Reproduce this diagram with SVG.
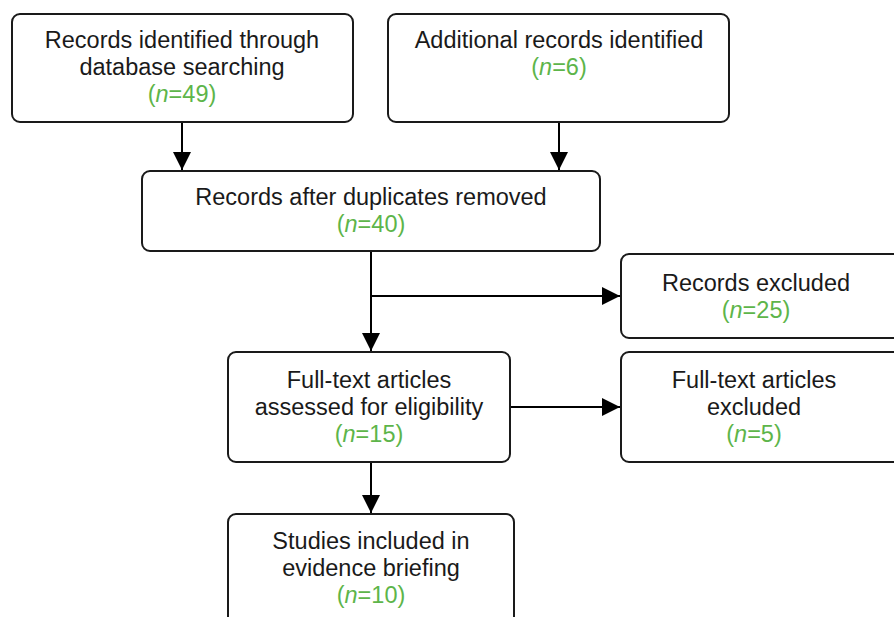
<svg xmlns="http://www.w3.org/2000/svg" width="894" height="617" viewBox="0 0 894 617">
<style>
.box{fill:#fff;stroke:#1a1a1a;stroke-width:2}
.t{font-family:"Liberation Sans",Arial,sans-serif;font-size:23.5px;fill:#1a1a1a;text-anchor:middle}
.g{fill:#5db54a}
.i{font-style:italic}
.c{stroke:#000;stroke-width:2;fill:none}
</style>
<defs>
<marker id="ah" markerUnits="userSpaceOnUse" markerWidth="18" markerHeight="18" viewBox="0 0 18 18" refX="18" refY="9" orient="auto">
<path d="M0,0 L18,9 L0,18 Z" fill="#000"/>
</marker>
</defs>
<rect width="894" height="617" fill="#fff"/>
<g id="connectors">
<line class="c" x1="182" y1="122" x2="182" y2="170" marker-end="url(#ah)"/>
<line class="c" x1="559" y1="122" x2="559" y2="170" marker-end="url(#ah)"/>
<line class="c" x1="371" y1="251" x2="371" y2="351" marker-end="url(#ah)"/>
<line class="c" x1="371" y1="296" x2="620" y2="296" marker-end="url(#ah)"/>
<line class="c" x1="510" y1="407" x2="620" y2="407" marker-end="url(#ah)"/>
<line class="c" x1="371" y1="462" x2="371" y2="513" marker-end="url(#ah)"/>
</g>
<g id="n1">
<rect class="box" x="12" y="14" width="341" height="108" rx="8"/>
<text class="t" x="182" y="48">Records identified through</text>
<text class="t" x="182" y="75">database searching</text>
<text class="t g" x="182" y="102">(<tspan class="i">n</tspan>=49)</text>
</g>
<g id="n2">
<rect class="box" x="388" y="14" width="341" height="108" rx="8"/>
<text class="t" x="559" y="48">Additional records identified</text>
<text class="t g" x="559" y="75">(<tspan class="i">n</tspan>=6)</text>
</g>
<g id="n3">
<rect class="box" x="142" y="171" width="458" height="80" rx="8"/>
<text class="t" x="371" y="205">Records after duplicates removed</text>
<text class="t g" x="371" y="232">(<tspan class="i">n</tspan>=40)</text>
</g>
<g id="n4">
<rect class="box" x="621" y="254" width="290" height="84" rx="8"/>
<text class="t" x="756" y="291">Records excluded</text>
<text class="t g" x="756" y="318">(<tspan class="i">n</tspan>=25)</text>
</g>
<g id="n5">
<rect class="box" x="228" y="352" width="282" height="110" rx="8"/>
<text class="t" x="369" y="388">Full-text articles</text>
<text class="t" x="369" y="415">assessed for eligibility</text>
<text class="t g" x="369" y="442">(<tspan class="i">n</tspan>=15)</text>
</g>
<g id="n6">
<rect class="box" x="621" y="352" width="290" height="110" rx="8"/>
<text class="t" x="754" y="388">Full-text articles</text>
<text class="t" x="754" y="415">excluded</text>
<text class="t g" x="754" y="442">(<tspan class="i">n</tspan>=5)</text>
</g>
<g id="n7">
<rect class="box" x="228" y="514" width="286" height="120" rx="8"/>
<text class="t" x="371" y="549">Studies included in</text>
<text class="t" x="371" y="576">evidence briefing</text>
<text class="t g" x="371" y="603">(<tspan class="i">n</tspan>=10)</text>
</g>
</svg>
